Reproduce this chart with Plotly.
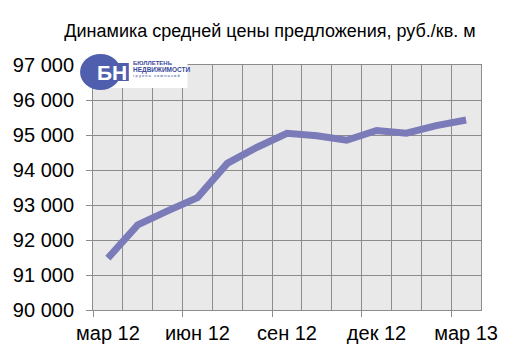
import plotly.graph_objects as go

months = ["мар 12", "апр 12", "май 12", "июн 12", "июл 12", "авг 12", "сен 12",
          "окт 12", "ноя 12", "дек 12", "янв 13", "фев 13", "мар 13"]
prices = [91480, 92430, 92830, 93210, 94190, 94650, 95050,
          94980, 94850, 95130, 95050, 95270, 95430]
label_every = 3
y_ticks = [90000, 91000, 92000, 93000, 94000, 95000, 96000, 97000]

W, H = 510, 361
L, R, T, B = 93, 27, 65, 51
pw, ph = W - L - R, H - T - B

def px(x):
    return (x - L) / pw

def py(y):
    return (H - B - y) / ph

n = len(months)
centers = [i + 0.5 for i in range(n)]
label_idx = list(range(0, n, label_every))

grid = "#8c8c8c"
font = "Liberation Sans, Arial, sans-serif"

fig = go.Figure()
fig.add_trace(go.Scatter(
    x=centers, y=prices, mode="lines",
    line=dict(color="#7a7bb8", width=7),
    hoverinfo="skip", showlegend=False))
fig.add_trace(go.Scatter(
    x=centers, y=prices, mode="lines", xaxis="x2",
    line=dict(width=0), opacity=0, hoverinfo="skip", showlegend=False))

fig.update_layout(
    width=W, height=H, autosize=False,
    margin=dict(l=L, r=R, t=T, b=B, pad=0),
    paper_bgcolor="white", plot_bgcolor="#e9e9e9",
    separators=", ",
    font=dict(family=font, color="black", size=20),
    title=dict(text="Динамика средней цены предложения, руб./кв. м",
               xref="container", x=270 / W, xanchor="center",
               yref="container", y=1 - 30.5 / H, yanchor="middle",
               font=dict(size=18, family=font, color="black")),
    xaxis=dict(range=[0, n], tickmode="array", tickvals=label_idx,
               showticklabels=False, ticks="outside", ticklen=6,
               tickcolor=grid, tickwidth=1,
               showgrid=True, gridcolor=grid, gridwidth=1,
               minor=dict(dtick=1, tick0=0, showgrid=True, gridcolor=grid,
                          gridwidth=1, ticks=""),
               showline=True, linecolor=grid, linewidth=1, mirror=True,
               zeroline=False, fixedrange=True),
    xaxis2=dict(range=[0, n], overlaying="x", anchor="y", side="bottom",
                tickmode="array", tickvals=[centers[i] for i in label_idx],
                ticktext=[months[i] for i in label_idx], ticks="",
                showgrid=False, showline=False, zeroline=False,
                ticklabelstandoff=9,
                tickfont=dict(size=20, family=font, color="black")),
    yaxis=dict(range=[y_ticks[0], y_ticks[-1]], tickmode="array",
               tickvals=y_ticks, tickformat=",d", ticks="outside", ticklen=6,
               tickcolor=grid, showgrid=True, gridcolor=grid, gridwidth=1,
               showline=True, linecolor=grid, linewidth=1, mirror=True,
               zeroline=False, ticklabelstandoff=8,
               tickfont=dict(size=20, family=font, color="black")),
)

# logo
shapes = [
    dict(type="rect", xref="paper", yref="paper", x0=px(100), x1=px(188),
         y0=py(88), y1=py(58), fillcolor="white", line=dict(width=0), layer="above"),
    dict(type="circle", xref="paper", yref="paper", x0=px(80), x1=px(121),
         y0=py(90), y1=py(54), fillcolor="#4f5fae", line=dict(width=0), layer="above"),
    dict(type="rect", xref="paper", yref="paper", x0=px(112), x1=px(129),
         y0=py(81), y1=py(63), fillcolor="#4f5fae", line=dict(width=0), layer="above"),
]
fig.update_layout(shapes=shapes)
fig.add_annotation(xref="paper", yref="paper", x=px(112), y=py(72.5),
                   text="<b>БН</b>", showarrow=False, xanchor="center", yanchor="middle",
                   font=dict(size=21, color="white", family=font))
fig.add_annotation(xref="paper", yref="paper", x=px(131), y=py(63.5),
                   text="<b>БЮЛЛЕТЕНЬ</b>", showarrow=False, xanchor="left", yanchor="middle",
                   font=dict(size=6, color="#3a4a9a", family=font))
fig.add_annotation(xref="paper", yref="paper", x=px(131), y=py(69.5),
                   text="<b>НЕДВИЖИМОСТИ</b>", showarrow=False, xanchor="left", yanchor="middle",
                   font=dict(size=6.5, color="#3a4a9a", family=font))
fig.add_annotation(xref="paper", yref="paper", x=px(131), y=py(75.5),
                   text="г р у п п а   к о м п а н и й", showarrow=False, xanchor="left", yanchor="middle",
                   font=dict(size=4, color="#3a4a9a", family=font))

fig.write_html("out.html")
